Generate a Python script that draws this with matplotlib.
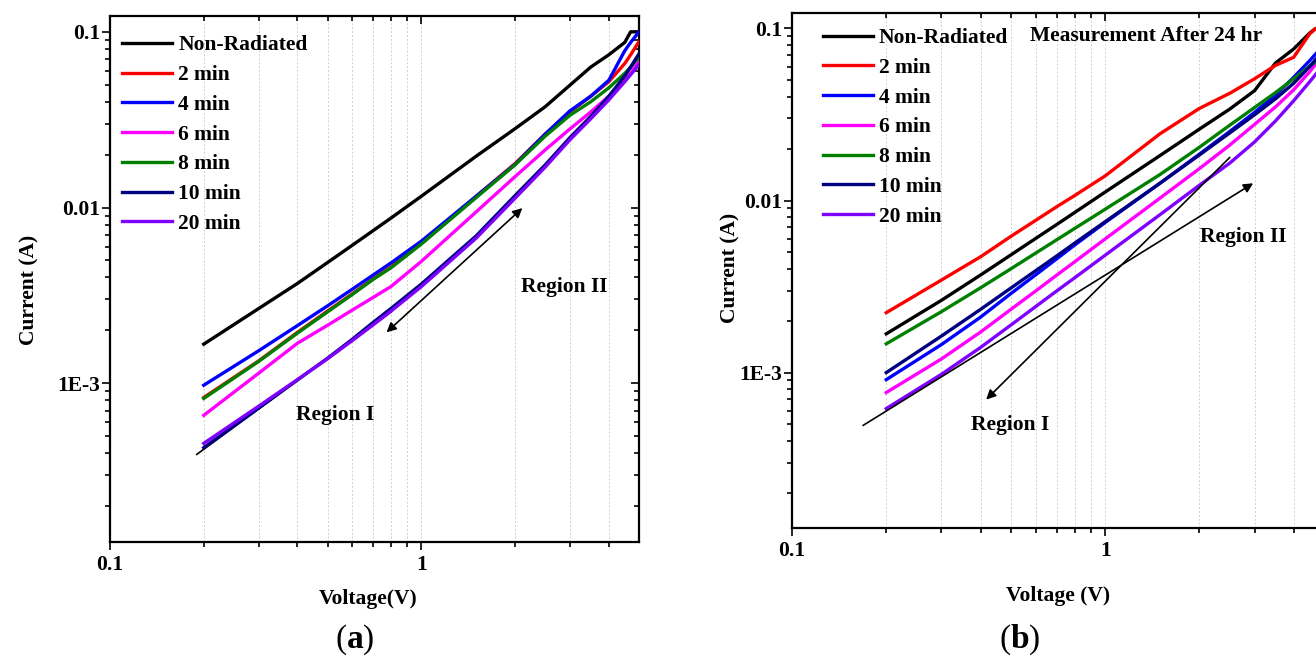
import numpy as np
import matplotlib
matplotlib.use("Agg")
import matplotlib.pyplot as plt
from matplotlib.ticker import FixedLocator, FixedFormatter, NullFormatter

plt.rcParams['font.family'] = ['Liberation Serif', 'DejaVu Serif']
plt.rcParams['font.weight'] = 'bold'
plt.rcParams['mathtext.fontset'] = 'custom'
plt.rcParams['mathtext.rm'] = 'Liberation Serif'
plt.rcParams['mathtext.bf'] = 'Liberation Serif:bold'

labels = ["Non-Radiated", "2 min", "4 min", "6 min", "8 min", "10 min", "20 min"]
colors = ["#000000", "#ff0000", "#0000ff", "#ff00ff", "#008000", "#000080", "#8000ff"]

# voltage grid shared by all curves (V)
volt = [0.2, 0.3, 0.4, 0.5, 0.6, 0.7, 0.8, 1.0, 1.5, 2.0, 2.5, 3.0, 3.5, 4.0, 4.5, 4.7, 5.0]

# (a) as-radiated, current in A
a_nonrad = [1.67e-3, 2.66e-3, 3.70e-3, 4.87e-3, 6.10e-3, 7.39e-3, 8.73e-3, 0.0116, 0.0196, 0.0281, 0.0375, 0.0497, 0.0630, 0.0740, 0.0870, 0.1, 0.1]
a_2min = [8.3e-4, 1.34e-3, 1.95e-3, 2.58e-3, 3.23e-3, 3.93e-3, 4.60e-3, 6.25e-3, 0.0116, 0.0178, 0.0262, 0.0350, 0.0430, 0.0520, 0.0660, 0.074, 0.088]
a_4min = [9.75e-4, 1.53e-3, 2.13e-3, 2.76e-3, 3.43e-3, 4.13e-3, 4.85e-3, 6.44e-3, 0.0116, 0.0176, 0.0262, 0.0355, 0.0430, 0.0530, 0.0780, 0.087, 0.1]
a_6min = [6.57e-4, 1.14e-3, 1.69e-3, 2.14e-3, 2.61e-3, 3.08e-3, 3.56e-3, 4.94e-3, 9.45e-3, 0.0150, 0.0213, 0.0280, 0.0350, 0.0430, 0.0530, 0.058, 0.068]
a_8min = [8.2e-4, 1.33e-3, 1.93e-3, 2.55e-3, 3.20e-3, 3.90e-3, 4.55e-3, 6.2e-3, 0.0114, 0.0175, 0.0255, 0.0335, 0.0400, 0.0480, 0.0580, 0.063, 0.072]
a_10min = [4.3e-4, 7.22e-4, 1.045e-3, 1.39e-3, 1.78e-3, 2.22e-3, 2.67e-3, 3.67e-3, 6.9e-3, 0.0117, 0.0175, 0.0250, 0.0330, 0.0430, 0.0560, 0.063, 0.075]
a_20min = [4.55e-4, 7.4e-4, 1.05e-3, 1.38e-3, 1.75e-3, 2.15e-3, 2.58e-3, 3.55e-3, 6.7e-3, 0.0113, 0.0170, 0.0243, 0.0320, 0.0410, 0.0520, 0.057, 0.065]

# (b) measurement after 24 hr
b_nonrad = [1.68e-3, 2.63e-3, 3.69e-3, 4.83e-3, 6.02e-3, 7.25e-3, 8.53e-3, 0.0112, 0.0183, 0.0260, 0.0340, 0.0435, 0.0630, 0.0760, 0.0940, 0.1, 0.1]
b_2min = [2.23e-3, 3.45e-3, 4.71e-3, 6.19e-3, 7.67e-3, 9.2e-3, 0.0107, 0.0139, 0.0245, 0.0343, 0.0420, 0.0510, 0.0610, 0.0680, 0.0930, 0.1, 0.1]
b_4min = [9.1e-4, 1.455e-3, 2.10e-3, 2.88e-3, 3.70e-3, 4.58e-3, 5.52e-3, 7.45e-3, 0.01264, 0.0186, 0.0252, 0.0325, 0.0410, 0.0520, 0.0650, 0.071, 0.080]
b_6min = [7.66e-4, 1.20e-3, 1.72e-3, 2.33e-3, 2.98e-3, 3.68e-3, 4.41e-3, 5.98e-3, 0.01036, 0.01533, 0.0210, 0.0277, 0.0350, 0.0440, 0.0560, 0.062, 0.070]
b_8min = [1.47e-3, 2.26e-3, 3.11e-3, 4.01e-3, 4.95e-3, 5.91e-3, 6.89e-3, 8.9e-3, 0.0142, 0.0204, 0.0274, 0.0347, 0.0424, 0.0510, 0.0605, 0.064, 0.068]
b_10min = [1.0e-3, 1.63e-3, 2.33e-3, 3.10e-3, 3.91e-3, 4.76e-3, 5.66e-3, 7.53e-3, 0.01264, 0.0184, 0.0247, 0.0315, 0.0390, 0.0480, 0.0600, 0.066, 0.075]
b_20min = [6.18e-4, 9.77e-4, 1.40e-3, 1.89e-3, 2.42e-3, 2.98e-3, 3.56e-3, 4.81e-3, 8.3e-3, 0.01227, 0.0165, 0.0219, 0.0290, 0.0380, 0.0490, 0.054, 0.062]

# guide lines / arrows (V, A)
fit_a_v = [0.19, 0.8]
fit_a_i = [3.94e-4, 2.55e-3]
arrow_a_v = [0.773, 2.11]
arrow_a_i = [1.95e-3, 9.93e-3]
fit_b_v = [0.1686, 2.97]
fit_b_i = [4.93e-4, 0.0126]
arrow_b_v = [0.417, 2.5]
arrow_b_i = [6.97e-4, 0.0178]

series_a = [a_nonrad, a_2min, a_4min, a_6min, a_8min, a_10min, a_20min]
series_b = [b_nonrad, b_2min, b_4min, b_6min, b_8min, b_10min, b_20min]

fig = plt.figure(figsize=(13.16, 6.61), dpi=100)
W, H = 1316, 661
ax_a = fig.add_axes([110 / W, 1 - 542 / H, 529 / W, 526 / H])
ax_b = fig.add_axes([792 / W, 1 - 528 / H, 532 / W, 515 / H])

FS = 15.5


def style_axes(ax):
    ax.set_xscale('log')
    ax.set_yscale('log')
    ax.set_xlim(0.1, 5.0)
    ax.set_ylim(1.25e-4, 0.123)
    ax.xaxis.set_major_locator(FixedLocator([0.1, 1]))
    ax.xaxis.set_major_formatter(FixedFormatter(["0.1", "1"]))
    ax.xaxis.set_minor_locator(FixedLocator([0.2, 0.3, 0.4, 0.5, 0.6, 0.7, 0.8, 0.9, 2, 3, 4]))
    ax.xaxis.set_minor_formatter(NullFormatter())
    ax.yaxis.set_major_locator(FixedLocator([1e-3, 1e-2, 1e-1]))
    ax.yaxis.set_major_formatter(FixedFormatter(["1E-3", "0.01", "0.1"]))
    minors = [m * 10.0 ** e for e in (-4, -3, -2) for m in range(2, 10)]
    ax.yaxis.set_minor_locator(FixedLocator(minors))
    ax.yaxis.set_minor_formatter(NullFormatter())
    ax.tick_params(which='both', direction='out', width=1.2, labelsize=FS, pad=3)
    ax.tick_params(which='major', length=6)
    ax.tick_params(which='minor', length=3.5)
    ax.tick_params(axis='y', pad=1)
    # mirrored ticks pointing inward on top and right
    ax.tick_params(which='both', top=True, right=True)
    for t in ax.xaxis.get_major_ticks() + ax.xaxis.get_minor_ticks():
        t.tick2line.set_marker(3)  # TICKDOWN
    for t in ax.yaxis.get_major_ticks() + ax.yaxis.get_minor_ticks():
        t.tick2line.set_marker(0)  # TICKLEFT
    for lab in ax.get_xticklabels() + ax.get_yticklabels():
        lab.set_fontweight('bold')
    for s in ax.spines.values():
        s.set_linewidth(1.6)
    ax.grid(axis='x', which='both', linestyle=(0, (2, 2)), color='#d0d0d0', linewidth=0.7)
    ax.set_axisbelow(True)


for ax, series in ((ax_a, series_a), (ax_b, series_b)):
    style_axes(ax)
    for vals, lab, col in zip(series, labels, colors):
        ax.plot(volt, vals, color=col, lw=2.4, label=lab, zorder=3)

leg_kw = dict(loc='upper left', frameon=False, handlelength=2.3, handletextpad=0.3,
              labelspacing=0.45, prop={'weight': 'bold', 'size': FS})

# panel (a)
ax_a.plot(fit_a_v, fit_a_i, color='k', lw=1.2, zorder=2)
ax_a.annotate('', xy=(arrow_a_v[0], arrow_a_i[0]), xytext=(arrow_a_v[1], arrow_a_i[1]),
              arrowprops=dict(arrowstyle='<|-|>', color='k', lw=1.2, mutation_scale=14, shrinkA=0, shrinkB=0))
ax_a.text(2.87, 3.52e-3, "Region II", fontsize=FS, fontweight='bold', ha='center', va='center')
ax_a.text(0.53, 6.58e-4, "Region I", fontsize=FS, fontweight='bold', ha='center', va='center')
ax_a.set_xlabel("Voltage(V)", fontsize=FS, fontweight='bold')
ax_a.xaxis.set_label_coords(0.488, -0.089)
ax_a.set_ylabel("Current (A)", fontsize=FS, fontweight='bold')
ax_a.yaxis.set_label_coords(-0.134, 0.48)
ax_a.legend(bbox_to_anchor=(-0.013, 1.0), borderaxespad=0.5, **leg_kw)

# panel (b)
ax_b.annotate('', xy=(fit_b_v[1], fit_b_i[1]), xytext=(fit_b_v[0], fit_b_i[0]),
              arrowprops=dict(arrowstyle='-|>', color='k', lw=1.2, mutation_scale=14, shrinkA=0, shrinkB=0))
ax_b.annotate('', xy=(arrow_b_v[0], arrow_b_i[0]), xytext=(arrow_b_v[1], arrow_b_i[1]),
              arrowprops=dict(arrowstyle='-|>', color='k', lw=1.2, mutation_scale=14, shrinkA=0, shrinkB=0))
ax_b.text(2.76, 6.14e-3, "Region II", fontsize=FS, fontweight='bold', ha='center', va='center')
ax_b.text(0.497, 4.93e-4, "Region I", fontsize=FS, fontweight='bold', ha='center', va='center')
ax_b.text(1.352, 0.091, "Measurement After 24 hr", fontsize=FS, fontweight='bold', ha='center', va='center')
ax_b.set_xlabel("Voltage (V)", fontsize=FS, fontweight='bold')
ax_b.xaxis.set_label_coords(0.5, -0.113)
ax_b.set_ylabel("Current (A)", fontsize=FS, fontweight='bold')
ax_b.yaxis.set_label_coords(-0.096, 0.505)
ax_b.legend(bbox_to_anchor=(0.03, 1.0), borderaxespad=0.3, **leg_kw)

fig.text(355 / W, 1 - 640 / H, r"($\mathbf{a}$)", fontsize=24, fontweight='normal', ha='center', va='center')
fig.text(1020 / W, 1 - 640 / H, r"($\mathbf{b}$)", fontsize=24, fontweight='normal', ha='center', va='center')

fig.savefig("out.png", dpi=100)
